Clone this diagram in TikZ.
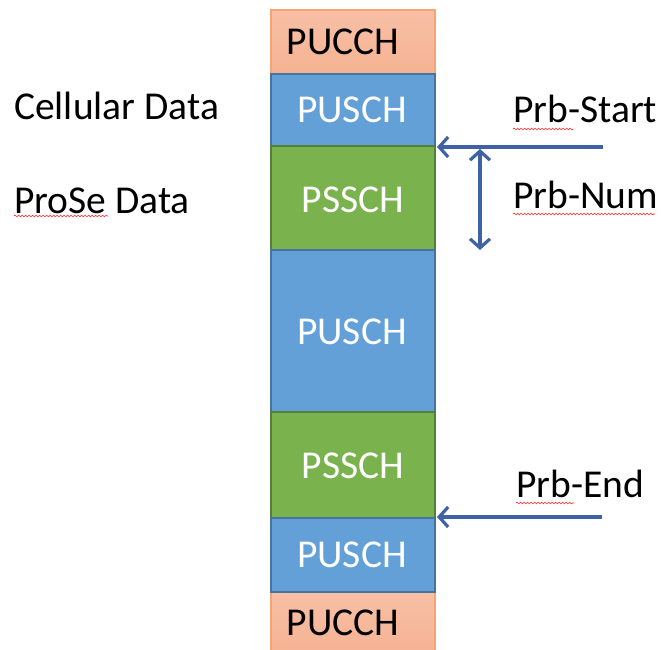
\documentclass[tikz,border=0pt]{standalone}
\usepackage{fontspec}
\setmainfont{Carlito}
\usetikzlibrary{arrows.meta,decorations.pathmorphing}
\definecolor{ucfill}{RGB}{248,192,166}
\definecolor{ucfillb}{RGB}{245,178,146}
\definecolor{ucline}{RGB}{246,165,110}
\definecolor{usfill}{RGB}{99,160,216}
\definecolor{usline}{RGB}{70,115,160}
\definecolor{ssfill}{RGB}{122,178,78}
\definecolor{ssline}{RGB}{85,125,60}
\definecolor{arr}{RGB}{62,98,165}
\begin{document}
\begin{tikzpicture}[x=1pt,y=-1pt,
  txt/.style={font=\fontsize{39.5}{47}\selectfont, inner sep=0pt},
  pucch/.style={draw=ucline, line width=1.2pt, top color=ucfill, bottom color=ucfillb},
  pusch/.style={draw=usline, line width=2pt, fill=usfill},
  pssch/.style={draw=ssline, line width=1.2pt, fill=ssfill},
  arrline/.style={draw=arr, line width=3.2pt},
  wavy/.style={draw=red!85!white, line width=0.6pt, decorate, decoration={snake, amplitude=0.9pt, segment length=3.5pt}}
]
\tikzset{barb/.tip={Straight Barb[length=9pt,width=20pt,line width=3.2pt]}}
\useasboundingbox (0,0) rectangle (661,650);
\fill[white] (0,0) rectangle (661,650);
% column blocks
\path[pucch] (271,10) rectangle (435,74);
\path[pucch] (271,592) rectangle (435,655);
\path[pusch] (271,74) rectangle (435,146);
\path[pssch] (271,146) rectangle (435,250);
\path[pusch] (271,250) rectangle (435,412);
\path[pssch] (271,412) rectangle (435,518);
\path[pusch] (271,518) rectangle (435,592);
% block labels
\node[txt, anchor=base] (uc1) at (343,55) {PUCCH};
\node[txt, anchor=base, text=white] (us1) at (352,123) {PUSCH};
\node[txt, anchor=base, text=white] (ss1) at (353,212) {PSSCH};
\node[txt, anchor=base, text=white] (us2) at (352,344) {PUSCH};
\node[txt, anchor=base, text=white] (ss2) at (353,478) {PSSCH};
\node[txt, anchor=base, text=white] (us3) at (352,567) {PUSCH};
\node[txt, anchor=base] (uc2) at (343,635) {PUCCH};
% left labels
\node[txt, anchor=base west] (cell) at (14,120) {Cellular Data};
\node[txt, anchor=base west] (prose) at (14,213) {ProSe Data};
% right labels
\node[txt, anchor=base west] (pstart) at (513,123) {Prb-Start};
\node[txt, anchor=base west] (pnum) at (513,208) {Prb-Num};
\node[txt, anchor=base west] (pend) at (516,497) {Prb-End};
% spell-check underlines
\draw[wavy] (14,216) -- (108,216);
\draw[wavy] (513,129) -- (573,129);
\draw[wavy] (513,214) -- (655,214);
\draw[wavy] (516,503) -- (574,503);
% arrows
\coordinate (sA) at (603,147);
\coordinate (sB) at (437,147);
\coordinate (nA) at (480,149);
\coordinate (nB) at (480,250);
\coordinate (eA) at (602,517);
\coordinate (eB) at (437,517);
\draw[arrline, -barb] (sA) -- (sB);
\draw[arrline, barb-barb] (nA) -- (nB);
\draw[arrline, -barb] (eA) -- (eB);
\end{tikzpicture}
\end{document}
